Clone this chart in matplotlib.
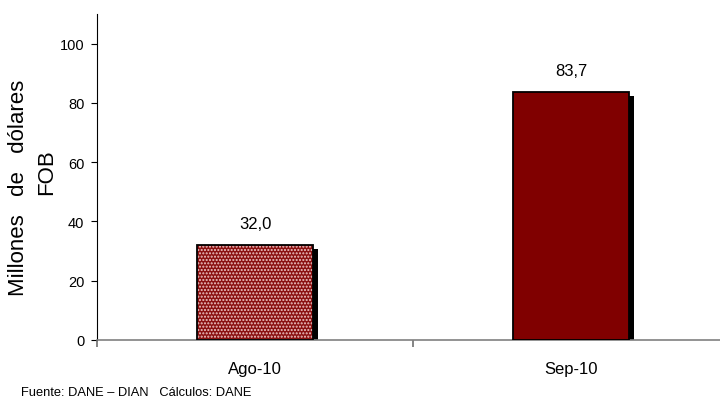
import matplotlib
matplotlib.use("Agg")
import matplotlib.pyplot as plt
from matplotlib.ticker import FixedLocator, NullFormatter
from matplotlib.transforms import ScaledTranslation
import numpy as np

categories = ["Ago-10", "Sep-10"]
values = [32.0, 83.7]
labels = ["32,0", "83,7"]

plt.rcParams['font.family'] = ['Liberation Sans', 'DejaVu Sans']

fig = plt.figure(figsize=(7.2, 4.06), dpi=100)
ax = fig.add_axes([97/720, 65/406, (729-97)/720, 326/406])

x = np.arange(len(categories))
w = 0.37
# shadows (offset in display units)
shift = ScaledTranslation(5/100, -4/100, fig.dpi_scale_trans)
for xi, v in zip(x, values):
    ax.bar(xi, v, width=w, color='black', lw=0, transform=ax.transData + shift, zorder=1)

# first bar: patterned
ax.bar(x[0], values[0], width=w, facecolor='#8b1010', edgecolor='#f0c8c8', lw=0, hatch='.....', zorder=2)
ax.bar(x[0], values[0], width=w, facecolor='none', edgecolor='black', lw=1.3, zorder=3)
ax.bar(x[1], values[1], width=w, facecolor='#800000', edgecolor='black', lw=1.3, zorder=3)

for xi, v, t in zip(x, values, labels):
    ax.text(xi, v + 7.4, t, ha='center', va='center', fontsize=12)

ax.set_xlim(-0.5, 1.5)
ax.set_ylim(0, 110)
ax.set_yticks([0, 20, 40, 60, 80, 100])
ax.tick_params(axis='y', labelsize=10.5, length=4, width=0.8, pad=5, direction='out')
ax.xaxis.set_major_locator(FixedLocator(x))
ax.set_xticklabels(categories, fontsize=12)
ax.tick_params(axis='x', which='major', length=0, pad=15)
ax.xaxis.set_minor_locator(FixedLocator([-0.5, 0.5, 1.5]))
ax.xaxis.set_minor_formatter(NullFormatter())
ax.tick_params(axis='x', which='minor', length=5, width=1.2, color='#707070', direction='out')

ax.spines['top'].set_visible(False)
ax.spines['right'].set_visible(False)
ax.spines['left'].set_color('black')
ax.spines['left'].set_linewidth(0.8)
ax.spines['bottom'].set_color('#808080')
ax.spines['bottom'].set_linewidth(1.2)

fig.text(19/720, 1 - 188/406, "Millones   de   dólares", rotation=90, ha='center', va='center', fontsize=16)
fig.text(47/720, 1 - 172/406, "FOB", rotation=90, ha='center', va='center', fontsize=16)
fig.text(21/720, 1 - 393/406, "Fuente: DANE – DIAN   Cálculos: DANE", ha='left', va='center', fontsize=9.3)

fig.savefig("out.png", dpi=100)
